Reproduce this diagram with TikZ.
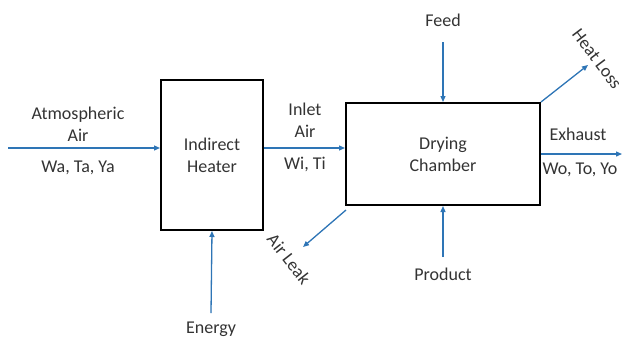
\documentclass[tikz,border=0pt]{standalone}
\usepackage{fontspec}
\setmainfont{Carlito}
\usepackage{xcolor}
\usetikzlibrary{arrows.meta,positioning,calc}
\definecolor{flowblue}{RGB}{46,117,182}

\begin{document}
\begin{tikzpicture}[
  x=1pt, y=-1pt,
  unit/.style={draw, line width=2pt, align=center, text=black!80, font=\fontsize{18}{22}\selectfont},
  lbl/.style={inner sep=0pt, align=center, font=\fontsize{18}{22}\selectfont, text=black!80},
  arr/.style={-{Triangle[length=6pt, width=5pt]}, draw=flowblue, fill=flowblue, line width=1.3pt},
]
\useasboundingbox (0,0) rectangle (624,338);

\node[unit, minimum width=102pt, minimum height=150pt] (heater) at (212,155) {Indirect\\Heater};
\node[unit, minimum width=194pt, minimum height=102pt] (chamber) at (443,154) {Drying\\Chamber};

% free ends
\coordinate (atmin)  at (8,148);
\coordinate (feedin) at (443,42);
\coordinate (lossout) at (588,65);
\coordinate (exout)  at (622,154);
\coordinate (leakout) at (303,247);
\coordinate (prodin) at (443,257);
\coordinate (energyin) at (211,313);

\node[lbl] (atm)    at (78,124)  {Atmospheric\\Air};
\node[lbl] (atmvar) at (78,168)  {Wa, Ta, Ya};
\node[lbl] (inlet)  at (305,120) {Inlet\\Air};
\node[lbl] (inletvar) at (305,164) {Wi, Ti};
\node[lbl] (feed)   at (443,20)  {Feed};
\node[lbl, rotate=-53] (loss) at (597,59) {Heat Loss};
\node[lbl] (exhaust) at (578,134) {Exhaust};
\node[lbl] (exvar)  at (580,170) {Wo, To, Yo};
\node[lbl, rotate=-52] (leak) at (289,259) {Air Leak};
\node[lbl] (product) at (443,274) {Product};
\node[lbl] (energy) at (211,329) {Energy};

\draw[arr] (atmin) -- (atmin -| heater.west);
\draw[arr] (heater.east |- atmin) -- (chamber.west |- atmin);
\draw[arr] (feedin) -- (chamber.north);
\draw[arr] (chamber.north east) -- (lossout);
\draw[arr] (chamber.east) -- (exout);
\draw[arr] ($(chamber.south west)+(1,4)$) -- (leakout);
\draw[arr] (prodin) -- (chamber.south);
\draw[arr] (energyin) -- (heater.south);
\end{tikzpicture}
\end{document}
